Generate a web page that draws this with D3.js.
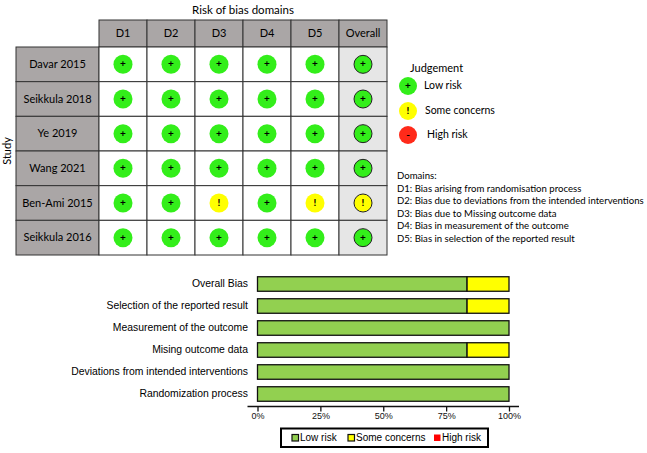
<!DOCTYPE html>
<html>
<head>
<meta charset="utf-8">
<script src="https://cdn.jsdelivr.net/npm/d3@7"></script>
<style>
  body { margin: 0; background: #fff; }
  svg text { font-family: Lato, "Open Sans", sans-serif; }
  .bar-chart text { font-family: "Liberation Sans", Arial, sans-serif; }
</style>
</head>
<body>
<div id="chart"></div>
<script>
// traffic light data
const domains = ["D1", "D2", "D3", "D4", "D5", "Overall"];
const studies = ["Davar 2015", "Seikkula 2018", "Ye 2019", "Wang 2021", "Ben-Ami 2015", "Seikkula 2016"];
const judgements = [
    ["low", "low", "low", "low", "low", "low"],
    ["low", "low", "low", "low", "low", "low"],
    ["low", "low", "low", "low", "low", "low"],
    ["low", "low", "low", "low", "low", "low"],
    ["low", "low", "some", "low", "some", "some"],
    ["low", "low", "low", "low", "low", "low"]
];
const domainNotes = [
    "D1: Bias arising from randomisation process",
    "D2: Bias due to deviations from the intended interventions",
    "D3: Bias due to Missing outcome data",
    "D4: Bias in measurement of the outcome",
    "D5: Bias in selection of the reported result"
];

// summary bar data (percent)
const categories = ["Overall Bias", "Selection of the reported result", "Measurement of the outcome",
    "Mising outcome data", "Deviations from intended interventions", "Randomization process"];
const lowRisk = [83.33, 83.33, 100, 83.33, 100, 100];
const someConcerns = [16.67, 16.67, 0, 16.67, 0, 0];
const highRisk = [0, 0, 0, 0, 0, 0];
const ticks = [0, 25, 50, 75, 100];

const fillFor = { low: "#33ee1a", some: "#ffff00", high: "#ff2a1a" };
const symFor = { low: "+", some: "!", high: "-" };

const width = 647, height = 453;

const svg = d3.select("#chart")
    .append("svg")
    .attr("width", width)
    .attr("height", height);

// ---------- top grid ----------
const xCol = d3.scaleBand().domain(domains).range([99, 387]);
const yRow = d3.scaleBand().domain(studies).range([47, 255]);
const headerTop = 20;

const grid = svg.append("g");

grid.append("text")
    .attr("x", (xCol.range()[0] + xCol.range()[1]) / 2)
    .attr("y", 11)
    .attr("text-anchor", "middle")
    .attr("dominant-baseline", "middle")
    .attr("font-size", 11.5)
    .text("Risk of bias domains");

grid.append("text")
    .attr("transform", "translate(8," + (yRow.range()[0] + yRow.range()[1]) / 2 + ") rotate(-90)")
    .attr("text-anchor", "middle")
    .attr("dominant-baseline", "middle")
    .attr("font-size", 11)
    .text("Study");

// header cells
grid.selectAll(".head")
    .data(domains)
    .enter()
    .append("rect")
    .attr("x", d => xCol(d))
    .attr("y", headerTop)
    .attr("width", xCol.bandwidth())
    .attr("height", yRow.range()[0] - headerTop)
    .attr("fill", "#aaa6a6")
    .attr("stroke", "#333")
    .attr("stroke-width", 1);

grid.selectAll(".headtxt")
    .data(domains)
    .enter()
    .append("text")
    .attr("x", d => xCol(d) + xCol.bandwidth() / 2)
    .attr("y", (headerTop + yRow.range()[0]) / 2 + 1)
    .attr("text-anchor", "middle")
    .attr("dominant-baseline", "middle")
    .attr("font-size", 11)
    .text(d => d);

// study name cells
grid.selectAll(".study")
    .data(studies)
    .enter()
    .append("rect")
    .attr("x", 16)
    .attr("y", d => yRow(d))
    .attr("width", xCol.range()[0] - 16)
    .attr("height", yRow.bandwidth())
    .attr("fill", "#aaa6a6")
    .attr("stroke", "#333")
    .attr("stroke-width", 1);

grid.selectAll(".studytxt")
    .data(studies)
    .enter()
    .append("text")
    .attr("x", (16 + xCol.range()[0]) / 2)
    .attr("y", d => yRow(d) + yRow.bandwidth() / 2 + 1)
    .attr("text-anchor", "middle")
    .attr("dominant-baseline", "middle")
    .attr("font-size", 11)
    .text(d => d);

// judgement cells
const cells = [];
studies.forEach((s, i) => domains.forEach((dm, j) => cells.push({ study: s, domain: dm, value: judgements[i][j] })));

grid.selectAll(".cell")
    .data(cells)
    .enter()
    .append("rect")
    .attr("x", d => xCol(d.domain))
    .attr("y", d => yRow(d.study))
    .attr("width", xCol.bandwidth())
    .attr("height", yRow.bandwidth())
    .attr("fill", d => d.domain === "Overall" ? "#e6e6e6" : "#fff")
    .attr("stroke", "#333")
    .attr("stroke-width", 1);

grid.selectAll(".dot")
    .data(cells)
    .enter()
    .append("circle")
    .attr("cx", d => xCol(d.domain) + xCol.bandwidth() / 2)
    .attr("cy", d => yRow(d.study) + yRow.bandwidth() / 2)
    .attr("r", d => d.domain === "Overall" ? 9 : 9.5)
    .attr("fill", d => fillFor[d.value])
    .attr("stroke", d => d.domain === "Overall" ? "#222" : "none")
    .attr("stroke-width", 1);

grid.selectAll(".sym")
    .data(cells)
    .enter()
    .append("text")
    .attr("x", d => xCol(d.domain) + xCol.bandwidth() / 2)
    .attr("y", d => yRow(d.study) + yRow.bandwidth() / 2 + 0.5)
    .attr("text-anchor", "middle")
    .attr("dominant-baseline", "middle")
    .attr("font-size", 10)
    .attr("font-weight", "bold")
    .text(d => symFor[d.value]);

// judgement legend
const legend = svg.append("g");
legend.append("text")
    .attr("x", 410).attr("y", 69)
    .attr("dominant-baseline", "middle")
    .attr("font-size", 11)
    .text("Judgement");

const legendItems = [
    { key: "low", label: "Low risk", cy: 86, tx: 424 },
    { key: "some", label: "Some concerns", cy: 111, tx: 425 },
    { key: "high", label: "High risk", cy: 135, tx: 427 }
];
legend.selectAll("circle")
    .data(legendItems)
    .enter()
    .append("circle")
    .attr("cx", 408)
    .attr("cy", d => d.cy)
    .attr("r", 9)
    .attr("fill", d => fillFor[d.key]);
legend.selectAll(".lsym")
    .data(legendItems)
    .enter()
    .append("text")
    .attr("x", 408)
    .attr("y", d => d.cy + 0.5)
    .attr("text-anchor", "middle")
    .attr("dominant-baseline", "middle")
    .attr("font-size", 10)
    .attr("font-weight", "bold")
    .text(d => symFor[d.key]);
legend.selectAll(".ltxt")
    .data(legendItems)
    .enter()
    .append("text")
    .attr("x", d => d.tx)
    .attr("y", d => d.cy + 0.5)
    .attr("dominant-baseline", "middle")
    .attr("font-size", 10.5)
    .text(d => d.label);

legend.append("text")
    .attr("x", 397).attr("y", 177)
    .attr("dominant-baseline", "middle")
    .attr("font-size", 9.6)
    .text("Domains:");
legend.selectAll(".note")
    .data(domainNotes)
    .enter()
    .append("text")
    .attr("x", 397)
    .attr("y", (d, i) => 189.5 + i * 12.4)
    .attr("dominant-baseline", "middle")
    .attr("font-size", 9.6)
    .text(d => d);

// ---------- summary bars ----------
const bars = svg.append("g").attr("class", "bar-chart");

const xScale = d3.scaleLinear().domain([0, 100]).range([257.5, 509]);
const yScale = d3.scaleBand()
    .domain(categories)
    .range([273, 405])
    .paddingInner(0.34)
    .paddingOuter(0.17);

const stackData = categories.map((c, i) => ({ cat: c, low: lowRisk[i], some: someConcerns[i], high: highRisk[i] }));
const series = d3.stack().keys(["low", "some", "high"])(stackData);
const barColor = { low: "#92d050", some: "#ffff00", high: "#ff0000" };

bars.selectAll(".series")
    .data(series)
    .enter()
    .append("g")
    .attr("fill", d => barColor[d.key])
    .selectAll("rect")
    .data(d => d.filter(p => p[1] - p[0] > 0))
    .enter()
    .append("rect")
    .attr("x", d => xScale(d[0]))
    .attr("y", d => yScale(d.data.cat))
    .attr("width", d => xScale(d[1]) - xScale(d[0]))
    .attr("height", yScale.bandwidth())
    .attr("stroke", "#111")
    .attr("stroke-width", 1.3);

bars.selectAll(".cat")
    .data(categories)
    .enter()
    .append("text")
    .attr("x", 248)
    .attr("y", d => yScale(d) + yScale.bandwidth() / 2 + 0.5)
    .attr("text-anchor", "end")
    .attr("dominant-baseline", "middle")
    .attr("font-size", 10.4)
    .text(d => d);

const axisY = 406.5;
const xAxis = d3.axisBottom(xScale)
    .tickValues(ticks)
    .tickFormat(d => d + "%")
    .tickSize(5);

const axisG = bars.append("g")
    .attr("transform", "translate(0," + axisY + ")")
    .call(xAxis);
axisG.select(".domain").remove();
axisG.selectAll(".tick line").attr("stroke", "#111").attr("stroke-width", 1.3);
axisG.selectAll(".tick text")
    .attr("font-family", "Liberation Sans, Arial, sans-serif")
    .attr("font-size", 9)
    .attr("fill", "#111")
    .attr("dy", "0.55em");
axisG.append("line")
    .attr("x1", xScale(0) - 10)
    .attr("x2", xScale(100) + 10)
    .attr("stroke", "#111")
    .attr("stroke-width", 1.5);

// bottom legend
const legB = bars.append("g");
legB.append("rect")
    .attr("x", 281).attr("y", 428.5)
    .attr("width", 207).attr("height", 18.5)
    .attr("fill", "#fff")
    .attr("stroke", "#000")
    .attr("stroke-width", 2);

const legBItems = [
    { key: "low", label: "Low risk", sx: 292, tx: 300 },
    { key: "some", label: "Some concerns", sx: 348, tx: 356 },
    { key: "high", label: "High risk", sx: 434, tx: 442 }
];
legB.selectAll(".sq")
    .data(legBItems)
    .enter()
    .append("rect")
    .attr("x", d => d.sx)
    .attr("y", 434.5)
    .attr("width", 6.5)
    .attr("height", 6.5)
    .attr("fill", d => barColor[d.key])
    .attr("stroke", d => d.key === "high" ? "none" : "#111")
    .attr("stroke-width", 1.2);
legB.selectAll(".lt")
    .data(legBItems)
    .enter()
    .append("text")
    .attr("x", d => d.tx)
    .attr("y", 438.5)
    .attr("dominant-baseline", "middle")
    .attr("font-size", 10)
    .text(d => d.label);
</script>
</body>
</html>
